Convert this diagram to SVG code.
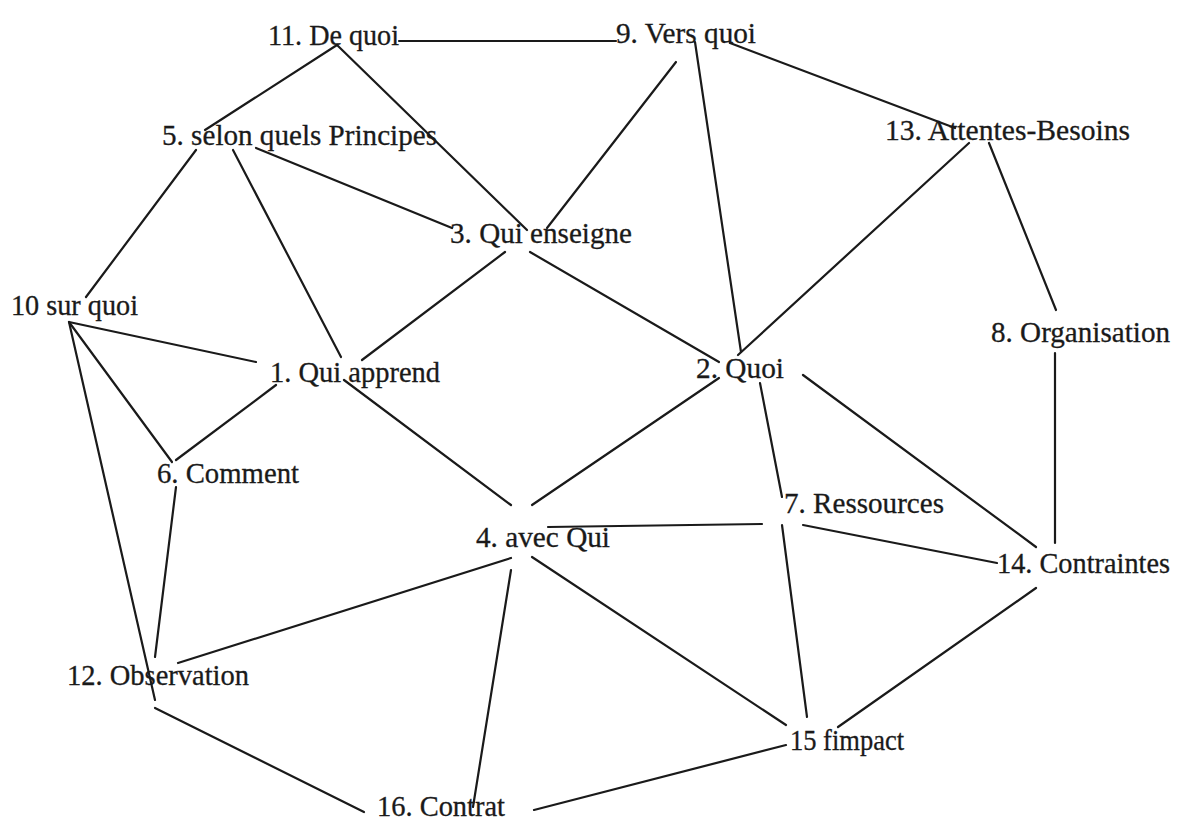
<svg xmlns="http://www.w3.org/2000/svg" width="1184" height="825" viewBox="0 0 1184 825">
<style>
.bg{fill:#ffffff}
.lbl{font-family:"Liberation Serif","Times New Roman",serif;font-size:28.5px;fill:#1a1a1a;stroke:#1a1a1a;stroke-width:0.3}
.edge{stroke:#1a1a1a;stroke-width:2.2;stroke-linecap:round;fill:none}
</style>
<rect class="bg" x="0" y="0" width="1184" height="825"/>
<g id="connectors">
<line class="edge" x1="399" y1="41" x2="616" y2="41"/>
<line class="edge" x1="337" y1="45" x2="205" y2="130"/>
<line class="edge" x1="337" y1="45" x2="527" y2="230"/>
<line class="edge" x1="676" y1="62" x2="547" y2="228"/>
<line class="edge" x1="695" y1="42" x2="741" y2="352"/>
<line class="edge" x1="730" y1="43" x2="955" y2="128"/>
<line class="edge" x1="969" y1="143" x2="738" y2="355"/>
<line class="edge" x1="989" y1="143" x2="1056" y2="310"/>
<line class="edge" x1="1055" y1="353" x2="1055" y2="543"/>
<line class="edge" x1="196" y1="150" x2="86" y2="297"/>
<line class="edge" x1="233" y1="150" x2="341" y2="357"/>
<line class="edge" x1="256" y1="148" x2="452" y2="228"/>
<line class="edge" x1="505" y1="252" x2="362" y2="360"/>
<line class="edge" x1="530" y1="252" x2="719" y2="362"/>
<line class="edge" x1="69" y1="322" x2="256" y2="362"/>
<line class="edge" x1="69" y1="322" x2="172" y2="462"/>
<line class="edge" x1="69" y1="322" x2="155" y2="700"/>
<line class="edge" x1="276" y1="385" x2="176" y2="460"/>
<line class="edge" x1="344" y1="380" x2="511" y2="505"/>
<line class="edge" x1="176" y1="487" x2="155" y2="657"/>
<line class="edge" x1="719" y1="378" x2="532" y2="505"/>
<line class="edge" x1="760" y1="383" x2="782" y2="497"/>
<line class="edge" x1="803" y1="375" x2="1036" y2="547"/>
<line class="edge" x1="548" y1="527" x2="762" y2="524"/>
<line class="edge" x1="803" y1="525" x2="997" y2="563"/>
<line class="edge" x1="782" y1="525" x2="807" y2="717"/>
<line class="edge" x1="511" y1="558" x2="178" y2="663"/>
<line class="edge" x1="511" y1="570" x2="473" y2="807"/>
<line class="edge" x1="532" y1="557" x2="786" y2="725"/>
<line class="edge" x1="1036" y1="588" x2="838" y2="727"/>
<line class="edge" x1="155" y1="708" x2="364" y2="812"/>
<line class="edge" x1="534" y1="810" x2="786" y2="745"/>
</g>
<g id="n11"><text class="lbl" x="268" y="45" textLength="131" lengthAdjust="spacingAndGlyphs">11. De quoi</text></g>
<g id="n9"><text class="lbl" x="616" y="43" textLength="140" lengthAdjust="spacingAndGlyphs">9. Vers quoi</text></g>
<g id="n5"><text class="lbl" x="162" y="145" textLength="275" lengthAdjust="spacingAndGlyphs">5. selon quels Principes</text></g>
<g id="n13"><text class="lbl" x="885" y="140" textLength="245" lengthAdjust="spacingAndGlyphs">13. Attentes-Besoins</text></g>
<g id="n3"><text class="lbl" x="450" y="243" textLength="182" lengthAdjust="spacingAndGlyphs">3. Qui enseigne</text></g>
<g id="n10"><text class="lbl" x="11" y="315" textLength="127" lengthAdjust="spacingAndGlyphs">10 sur quoi</text></g>
<g id="n8"><text class="lbl" x="991" y="342" textLength="179" lengthAdjust="spacingAndGlyphs">8. Organisation</text></g>
<g id="n1"><text class="lbl" x="270" y="382" textLength="170" lengthAdjust="spacingAndGlyphs">1. Qui apprend</text></g>
<g id="n2"><text class="lbl" x="696" y="378" textLength="88" lengthAdjust="spacingAndGlyphs">2. Quoi</text></g>
<g id="n6"><text class="lbl" x="157" y="483" textLength="142" lengthAdjust="spacingAndGlyphs">6. Comment</text></g>
<g id="n7"><text class="lbl" x="784" y="513" textLength="160" lengthAdjust="spacingAndGlyphs">7. Ressources</text></g>
<g id="n4"><text class="lbl" x="476" y="547" textLength="134" lengthAdjust="spacingAndGlyphs">4. avec Qui</text></g>
<g id="n14"><text class="lbl" x="997" y="573" textLength="173" lengthAdjust="spacingAndGlyphs">14. Contraintes</text></g>
<g id="n12"><text class="lbl" x="67" y="685" textLength="182" lengthAdjust="spacingAndGlyphs">12. Observation</text></g>
<g id="n15"><text class="lbl" x="790" y="750" textLength="114" lengthAdjust="spacingAndGlyphs">15 fimpact</text></g>
<g id="n16"><text class="lbl" x="377" y="816" textLength="128" lengthAdjust="spacingAndGlyphs">16. Contrat</text></g>
</svg>
